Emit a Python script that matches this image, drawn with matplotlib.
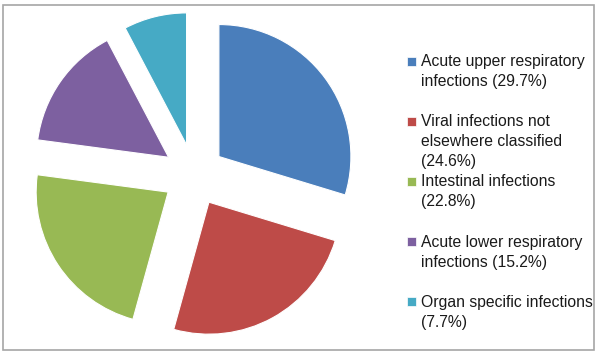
import matplotlib
matplotlib.use("Agg")
import matplotlib.pyplot as plt
from matplotlib.patches import Rectangle

labels = [
    "Acute upper respiratory\ninfections (29.7%)",
    "Viral infections not\nelsewhere classified\n(24.6%)",
    "Intestinal infections\n(22.8%)",
    "Acute lower respiratory\ninfections (15.2%)",
    "Organ specific infections\n(7.7%)",
]
shares = [29.7, 24.6, 22.8, 15.2, 7.7]
colors = ["#4A7EBB", "#BE4B48", "#98B954", "#7D60A0", "#46AAC5"]

W, H = 600, 354
fig = plt.figure(figsize=(W / 100, H / 100), dpi=100)
ax = fig.add_axes([0, 0, 1, 1])

# explode is in data units here (pixels)
ax.pie(shares, colors=colors, startangle=90, counterclock=False,
       explode=[31] * len(shares), center=(194, 179), radius=132,
       wedgeprops=dict(edgecolor="white", linewidth=0.8))
ax.set_xlim(0, W)
ax.set_ylim(0, H)
ax.set_aspect("equal")
ax.axis("off")

# outer frame
ax.add_patch(Rectangle((3, 4), 591, 345, fill=False, edgecolor="#a6a6a6",
                       linewidth=1.2))

# legend, entries evenly spaced by first line
for i, (lab, col) in enumerate(zip(labels, colors)):
    y = H - (61 + 60.2 * i)
    ax.add_patch(Rectangle((407, y - 4.5), 9, 9, facecolor=col, edgecolor="white",
                           linewidth=0.5))
    ax.text(421, y + 7, lab, fontsize=11.3, family="Liberation Sans",
            color="#1a1a1a", va="top", ha="left", linespacing=1.42)

fig.savefig("out.png", dpi=100)
